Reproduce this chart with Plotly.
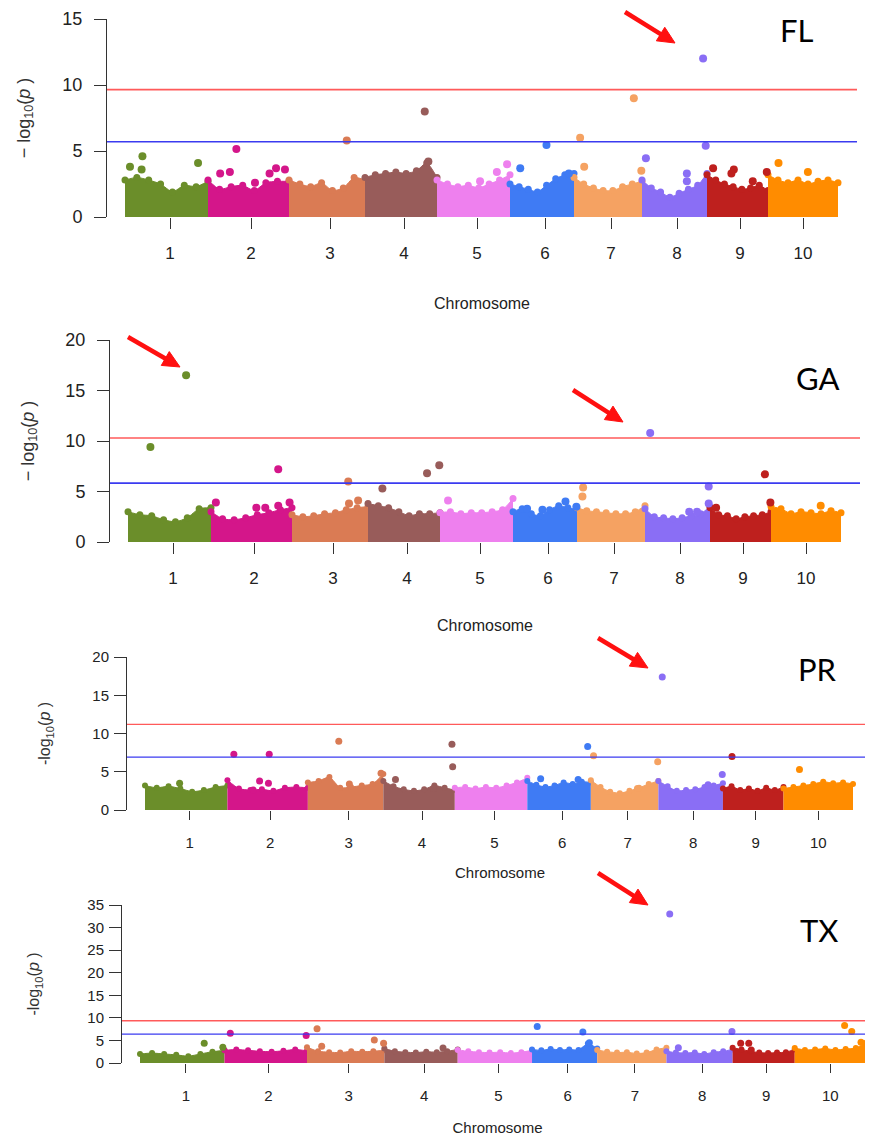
import math
import plotly.graph_objects as go

W, H = 873, 1136
OFF = 8  # page body margin of the browser

# ---------------- data ----------------
chromosomes = ["1", "2", "3", "4", "5", "6", "7", "8", "9", "10"]
chrom_len = [83, 81, 76, 72, 73, 64, 68, 65, 61, 70]
chrom_tick = [45, 43, 41, 39, 40, 35, 37, 35, 33, 35]   # label position inside each chromosome
chrom_colors = ["#6B8E2A", "#D4168A", "#DA7B54", "#985C5A", "#EE80EE",
                "#3F7BF4", "#F5A262", "#8A6EF5", "#BE201E", "#FF8C00"]

# FL: background skyline heights per chromosome, highlighted SNPs, thresholds
fl_env = [
    [2.8, 3.0, 2.8, 2.5, 1.9, 2.4, 2.3, 2.7],
    [2.8, 2.1, 2.3, 2.4, 2.0, 2.6, 2.7, 2.7],
    [2.8, 2.5, 2.3, 2.6, 2.0, 2.2, 3.0, 2.8],
    [3.0, 3.2, 3.3, 3.4, 3.3, 3.5, 4.1, 3.0],
    [2.8, 2.5, 2.3, 2.4, 2.2, 2.5, 2.8, 3.2],
    [2.5, 2.3, 2.1, 1.9, 2.4, 2.9, 3.2, 3.3],
    [3.0, 2.5, 2.2, 2.0, 2.0, 2.3, 2.5, 2.7],
    [2.8, 2.2, 1.9, 1.5, 1.8, 2.1, 2.4, 3.3],
    [3.2, 2.8, 2.5, 2.3, 2.1, 2.2, 2.4, 2.0],
    [3.2, 2.8, 2.6, 2.8, 2.5, 2.7, 2.8, 2.6],
]
fl_hit_chr = [1, 1, 1, 1, 2, 2, 2, 2, 2, 2, 2, 3, 4, 4, 5, 5, 5, 6, 6, 6,
              7, 7, 7, 7, 8, 8, 8, 8, 8, 9, 9, 9, 9, 9, 10, 10]
fl_hit_pos = [0.06, 0.21, 0.20, 0.88, 0.35, 0.15, 0.27, 0.58, 0.76, 0.84, 0.95,
              0.76, 0.83, 0.88, 0.82, 0.96, 0.59, 0.16, 0.57, 0.92,
              0.09, 0.15, 0.88, 0.99, 0.06, 0.69, 0.69, 0.94, 0.98,
              0.10, 0.44, 0.40, 0.75, 0.98, 0.15, 0.57]
fl_hit_val = [3.8, 4.6, 3.6, 4.1, 5.15, 3.3, 3.4, 2.6, 3.3, 3.7, 3.6,
              5.8, 8.0, 4.2, 3.4, 4.0, 2.7, 3.7, 5.45, 3.3,
              6.0, 3.8, 9.0, 3.5, 4.45, 3.3, 2.7, 12.0, 5.4,
              3.7, 3.6, 3.3, 2.7, 3.4, 4.1, 3.4]
fl_thresholds = [9.65, 5.7]

# GA
ga_env = [
    [3.0, 2.7, 2.6, 2.2, 2.0, 2.4, 3.3, 3.4],
    [3.0, 2.3, 2.2, 2.4, 2.7, 2.9, 3.2, 3.4],
    [2.7, 2.5, 2.6, 2.8, 2.9, 3.2, 3.4, 3.5],
    [3.8, 3.6, 3.4, 3.0, 2.6, 2.8, 2.8, 2.9],
    [2.9, 3.0, 2.8, 2.9, 2.9, 3.0, 3.2, 4.3],
    [3.0, 3.3, 2.8, 2.6, 3.2, 3.6, 3.4, 3.2],
    [3.4, 3.1, 3.0, 2.9, 2.8, 2.8, 3.0, 3.6],
    [3.3, 2.5, 2.4, 2.3, 2.4, 2.6, 2.8, 3.5],
    [3.4, 2.7, 2.6, 2.3, 2.5, 2.6, 2.7, 3.0],
    [3.5, 3.3, 2.8, 3.0, 2.9, 2.8, 3.1, 2.9],
]
ga_hit_chr = [1, 1, 2, 2, 2, 2, 2, 2, 3, 3, 3, 4, 4, 4, 5, 6, 6, 6, 6,
              7, 7, 8, 8, 8, 8, 8, 9, 9, 9, 10]
ga_hit_pos = [0.27, 0.70, 0.06, 0.83, 0.56, 0.67, 0.83, 0.97, 0.74, 0.75, 0.87,
              0.20, 0.82, 0.99, 0.11, 0.22, 0.46, 0.82, 0.99, 0.09, 0.08,
              0.08, 0.98, 0.68, 0.80, 0.98, 0.90, 0.99, 0.10, 0.71]
ga_hit_val = [9.4, 16.5, 3.9, 7.2, 3.4, 3.4, 3.6, 3.9, 6.0, 3.8, 4.1,
              5.3, 6.8, 7.6, 4.1, 3.3, 3.2, 4.0, 3.5, 5.4, 4.5,
              10.8, 5.5, 3.0, 3.0, 3.8, 6.7, 3.9, 3.4, 3.6]
ga_thresholds = [10.3, 5.83]

# PR
pr_env = [
    [3.2, 2.9, 3.1, 2.8, 2.4, 2.6, 3.0, 3.2],
    [3.9, 2.8, 2.6, 2.7, 2.5, 2.9, 3.0, 2.9],
    [3.6, 3.8, 4.3, 2.9, 3.0, 3.2, 3.4, 4.7],
    [3.8, 3.1, 2.7, 2.5, 2.7, 3.2, 2.9, 2.6],
    [2.9, 3.0, 2.8, 3.0, 2.9, 3.2, 3.6, 4.2],
    [3.8, 3.3, 3.0, 3.2, 3.6, 3.4, 3.7, 3.6],
    [3.9, 3.0, 2.4, 2.2, 2.5, 2.9, 3.4, 3.8],
    [3.8, 3.1, 2.5, 2.6, 2.7, 3.0, 3.2, 3.5],
    [2.8, 3.1, 2.6, 2.8, 2.5, 2.9, 2.6, 3.0],
    [2.8, 3.0, 3.2, 3.4, 3.7, 3.5, 3.6, 3.4],
]
pr_hit_chr = [1, 2, 2, 2, 2, 2, 3, 3, 3, 4, 4, 4, 4, 6, 6, 6,
              7, 7, 7, 8, 8, 8, 9, 10]
pr_hit_pos = [0.42, 0.08, 0.52, 0.40, 0.51, 0.32, 0.41, 0.55, 0.97,
              0.17, 0.96, 0.97, 0.70, 0.21, 0.95, 0.80,
              0.04, 0.99, 0.69, 0.06, 0.99, 0.77, 0.15, 0.23]
pr_hit_val = [3.5, 7.3, 7.3, 3.8, 3.5, 2.6, 9.0, 3.4, 4.8,
              4.0, 8.6, 5.65, 2.8, 4.1, 8.3, 4.0,
              7.1, 6.3, 2.8, 17.4, 4.65, 3.3, 7.0, 5.3]
pr_thresholds = [11.2, 6.9]

# TX
tx_env = [
    [2.0, 2.2, 2.0, 1.8, 1.5, 2.0, 2.5, 2.8],
    [2.8, 3.0, 2.8, 2.6, 2.5, 2.7, 3.0, 2.7],
    [3.5, 2.6, 2.4, 2.3, 2.6, 2.5, 2.6, 2.8],
    [3.2, 2.6, 2.4, 2.3, 2.5, 2.4, 2.6, 3.0],
    [2.9, 2.6, 2.4, 2.3, 2.4, 2.2, 2.4, 2.8],
    [3.0, 2.8, 3.1, 2.9, 3.0, 2.9, 4.3, 3.2],
    [2.9, 2.5, 2.3, 2.4, 2.1, 2.3, 3.0, 3.4],
    [2.6, 2.3, 2.2, 2.3, 2.0, 2.4, 2.6, 3.0],
    [3.4, 3.0, 2.6, 2.3, 2.2, 2.3, 2.4, 3.0],
    [3.3, 2.9, 3.0, 3.2, 2.9, 3.1, 3.3, 4.5],
]
tx_hit_chr = [1, 1, 2, 2, 3, 3, 3, 3, 4, 6, 6, 6, 8, 8, 8, 9, 9, 9, 10, 10, 10]
tx_hit_pos = [0.76, 0.98, 0.07, 0.99, 0.13, 0.19, 0.87, 0.99, 0.80,
              0.08, 0.78, 0.88, 0.05, 0.99, 0.18, 0.13, 0.26, 0.30,
              0.70, 0.80, 0.93]
tx_hit_val = [4.4, 3.5, 6.6, 6.1, 7.6, 3.7, 5.1, 4.4, 3.3,
              8.1, 6.85, 4.5, 33.0, 7.0, 3.4, 4.4, 4.4, 2.9,
              8.3, 7.0, 4.6]
tx_thresholds = [9.36, 6.4]

# ---------------- geometry (reference pixels) ----------------
panels = [
    dict(name="FL", env=fl_env, hc=fl_hit_chr, hp=fl_hit_pos, hv=fl_hit_val, th=fl_thresholds,
         axis_px=107, end_px=857, d0=125, d1=838, y0=217, ytop=19, ymax=15, dtick=5,
         tfont=18, xfont=17, yfont=18, msize=8, ylabtxt="\u2212 log<sub>10</sub>(<i>p</i> )",
         ystand=27, xstand=35, ylstand=8, lab=(797, 30), yticklen=12, xticklen=11,
         arrows=[((675, 43), (625, 12))]),
    dict(name="GA", env=ga_env, hc=ga_hit_chr, hp=ga_hit_pos, hv=ga_hit_val, th=ga_thresholds,
         axis_px=110, end_px=860, d0=128, d1=841, y0=542, ytop=340, ymax=20, dtick=5,
         tfont=18, xfont=17, yfont=18, msize=8, ylabtxt="\u2212 log<sub>10</sub>(<i>p</i> )",
         ystand=26, xstand=32, ylstand=8, lab=(817, 378), yticklen=12, xticklen=11,
         arrows=[((180, 367), (128, 337)), ((623, 422), (573, 390))]),
    dict(name="PR", env=pr_env, hc=pr_hit_chr, hp=pr_hit_pos, hv=pr_hit_val, th=pr_thresholds,
         axis_px=127, end_px=873, d0=145, d1=853, y0=810, ytop=657, ymax=20, dtick=5,
         tfont=15, xfont=15, yfont=16, msize=7, ylabtxt="-log<sub>10</sub>(<i>p</i> )",
         ystand=37, xstand=17, ylstand=2, lab=(817, 669), yticklen=12, xticklen=9,
         arrows=[((648, 668), (598, 638))]),
    dict(name="TX", env=tx_env, hc=tx_hit_chr, hp=tx_hit_pos, hv=tx_hit_val, th=tx_thresholds,
         axis_px=122, end_px=873, d0=140, d1=866, y0=1063, ytop=905, ymax=35, dtick=5,
         tfont=15, xfont=15, yfont=16, msize=7, ylabtxt="-log<sub>10</sub>(<i>p</i> )",
         ystand=43, xstand=19, ylstand=2, lab=(819, 930), yticklen=12, xticklen=9,
         arrows=[((648, 905), (598, 873))]),
]

offsets = []
acc = 0
for L in chrom_len:
    offsets.append(acc)
    acc += L
total = acc
tick_pos = [o + t for o, t in zip(offsets, chrom_tick)]


def fx(xp):
    return (xp - OFF) / W


def fy(yp):
    return 1 - (yp - OFF) / H


def px(xp, yp):
    return fx(xp), fy(yp)


fig = go.Figure()
shapes = []
annotations = []
layout_axes = {}
axis_color = "#333333"

for k, p in enumerate(panels):
    idx = "" if k == 0 else str(k + 1)
    xa, ya = "x" + idx, "y" + idx
    scale = (p["d1"] - p["d0"]) / total
    end_px = min(p["end_px"], W)
    xmin = (p["axis_px"] - p["d0"]) / scale
    xmax = (end_px - p["d0"]) / scale

    # background skyline per chromosome
    for c in range(10):
        hs = p["env"][c]
        n = len(hs)
        xs = [offsets[c] + chrom_len[c] * i / (n - 1) for i in range(n)]
        fig.add_trace(go.Scatter(
            x=xs, y=hs, mode="lines+markers", fill="tozeroy",
            fillcolor=chrom_colors[c],
            line=dict(color=chrom_colors[c], width=1, shape="spline", smoothing=0.6),
            marker=dict(color=chrom_colors[c], size=p["msize"] - 1),
            xaxis=xa, yaxis=ya, hoverinfo="skip", showlegend=False))

    # highlighted SNPs
    hx = [offsets[c - 1] + chrom_len[c - 1] * r for c, r in zip(p["hc"], p["hp"])]
    hcol = [chrom_colors[c - 1] for c in p["hc"]]
    fig.add_trace(go.Scatter(
        x=hx, y=p["hv"], mode="markers",
        marker=dict(color=hcol, size=p["msize"], line=dict(width=0)),
        xaxis=xa, yaxis=ya, showlegend=False, cliponaxis=False))

    # thresholds
    for val, col in zip(p["th"], ["#FF5A5A", "#3B3BF0"]):
        shapes.append(dict(type="line", xref=xa + " domain", yref=ya,
                           x0=0, x1=1, y0=val, y1=val,
                           line=dict(color=col, width=1.6 if k < 2 else 1.3),
                           layer="above"))

    layout_axes["xaxis" + idx] = dict(
        domain=[fx(p["axis_px"]), min(1.0, fx(end_px))], range=[xmin, xmax],
        anchor=ya, showgrid=False, zeroline=False, showline=False, automargin=False,
        tickmode="array", tickvals=tick_pos, ticktext=chromosomes,
        ticks="outside", ticklen=p["xticklen"], tickcolor=axis_color, tickwidth=1,
        tickfont=dict(size=p["xfont"], color="#222222", family="Liberation Sans"),
        ticklabelstandoff=10, fixedrange=True,
        title=dict(text="Chromosome", standoff=p["xstand"],
                   font=dict(size=16 if k < 2 else 15, color="#222222",
                             family="Liberation Sans")))
    layout_axes["yaxis" + idx] = dict(
        domain=[fy(p["y0"]), fy(p["ytop"])], range=[0, p["ymax"]],
        anchor=xa, showgrid=False, zeroline=False, showline=True, automargin=False,
        linecolor=axis_color, linewidth=1,
        tickmode="linear", tick0=0, dtick=p["dtick"],
        ticks="outside", ticklen=p["yticklen"], tickcolor=axis_color, tickwidth=1,
        tickfont=dict(size=p["tfont"], color="#222222", family="Liberation Sans"),
        ticklabelstandoff=p["ylstand"], fixedrange=True,
        title=dict(text=p["ylabtxt"], standoff=p["ystand"],
                   font=dict(size=p["yfont"], color="#333333", family="Liberation Sans")))

    # panel label
    xx, yy = px(*p["lab"])
    annotations.append(dict(
        x=xx, y=yy, xref="paper", yref="paper",
        text=p["name"], showarrow=False,
        font=dict(size=31, color="black", family="Lato"),
        xanchor="center", yanchor="middle"))
    # red arrows drawn as shapes (shaft + triangular head)
    for head, tail in p["arrows"]:
        dx, dy = head[0] - tail[0], head[1] - tail[1]
        d = math.hypot(dx, dy)
        ux, uy = dx / d, dy / d
        hl, hw = 17, 8
        bx, by = head[0] - ux * hl, head[1] - uy * hl
        x0, y0 = px(*tail)
        x1, y1 = px(bx + ux * 2, by + uy * 2)
        shapes.append(dict(type="line", xref="paper", yref="paper",
                           x0=x0, y0=y0, x1=x1, y1=y1,
                           line=dict(color="#FF1010", width=4.5)))
        pts = [head, (bx - uy * hw, by + ux * hw), (bx + uy * hw, by - ux * hw)]
        ppts = [px(*q) for q in pts]
        path = "M {} {} L {} {} L {} {} Z".format(
            ppts[0][0], ppts[0][1], ppts[1][0], ppts[1][1], ppts[2][0], ppts[2][1])
        shapes.append(dict(type="path", xref="paper", yref="paper", path=path,
                           fillcolor="#FF1010", line=dict(color="#FF1010", width=1)))

fig.update_layout(
    width=W, height=H, margin=dict(l=0, r=0, t=0, b=0, pad=0, autoexpand=False),
    paper_bgcolor="white", plot_bgcolor="white", showlegend=False,
    shapes=shapes, annotations=annotations, **layout_axes)

fig.write_html("out.html")
